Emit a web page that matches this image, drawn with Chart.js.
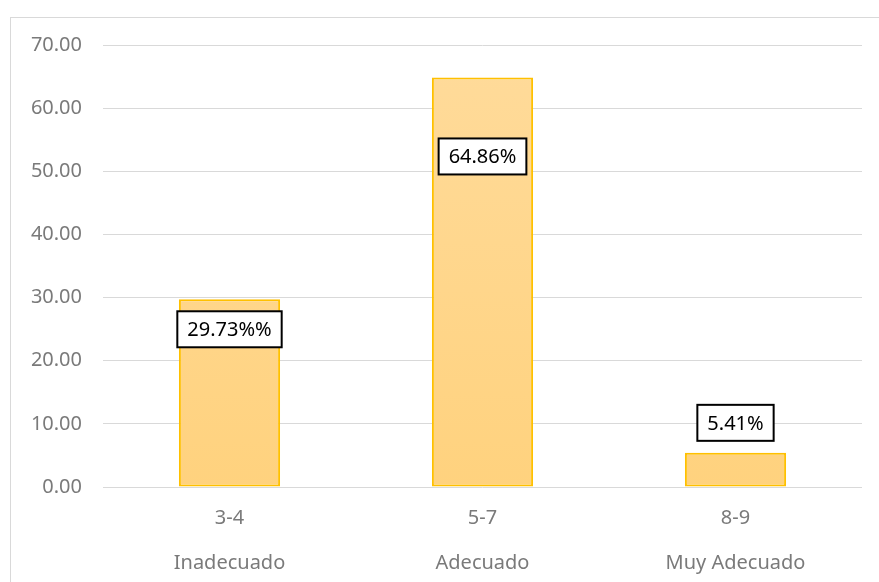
<!DOCTYPE html>
<html>
<head>
<meta charset="utf-8">
<script src="https://cdn.jsdelivr.net/npm/chart.js@4/dist/chart.umd.min.js"></script>
<style>
  html, body { margin: 0; padding: 0; background: #fff; overflow: hidden; }
  #marco { position: absolute; left: 10px; top: 17px; width: 900px; height: 600px; border: 1px solid #d9d9d9; }
  #wrap { position: absolute; left: 0; top: 0; width: 879px; height: 582px; }
</style>
</head>
<body>
<div id="marco"></div>
<div id="wrap"><canvas id="grafico" width="879" height="582"></canvas></div>
<script>
// datos
const rangos = ['3-4', '5-7', '8-9'];
const niveles = ['Inadecuado', 'Adecuado', 'Muy Adecuado'];
const porcentajes = [29.73, 64.86, 5.41];
const etiquetas = ['29.73%%', '64.86%', '5.41%'];
const ticksY = [0, 10, 20, 30, 40, 50, 60, 70];

// cajas de etiquetas, desplazadas respecto al tope de la barra (px)
const cajas = {
  id: 'cajas',
  afterDatasetsDraw(chart, args, opts) {
    const ctx = chart.ctx;
    const meta = chart.getDatasetMeta(0);
    ctx.save();
    ctx.font = '20px "Noto Sans"';
    ctx.textAlign = 'center';
    ctx.textBaseline = 'middle';
    meta.data.forEach((bar, i) => {
      const txt = etiquetas[i];
      const w = ctx.measureText(txt).width + 20;
      const h = 36;
      const cx = bar.x;
      const cy = bar.y + opts.offsets[i];
      ctx.fillStyle = '#fff';
      ctx.fillRect(cx - w / 2, cy - h / 2, w, h);
      ctx.lineWidth = 2;
      ctx.strokeStyle = '#000';
      ctx.strokeRect(cx - w / 2, cy - h / 2, w, h);
      ctx.fillStyle = '#000';
      ctx.fillText(txt, cx, cy + 1);
    });
    ctx.restore();
  }
};

new Chart(document.getElementById('grafico'), {
  type: 'bar',
  data: {
    labels: rangos.map((r, i) => [r, niveles[i]]),
    datasets: [{
      data: porcentajes,
      backgroundColor: (c) => {
        const area = c.chart.chartArea;
        if (!area) return '#FFD996';
        const g = c.chart.ctx.createLinearGradient(0, area.top, 0, area.bottom);
        g.addColorStop(0, '#FFDB9B');
        g.addColorStop(1, '#FFD27E');
        return g;
      },
      borderColor: '#FFC000',
      borderWidth: 2,
      borderSkipped: false,
      categoryPercentage: 1,
      barPercentage: 0.4
    }]
  },
  options: {
    responsive: false,
    animation: false,
    devicePixelRatio: 1,
    layout: { padding: { top: 45, right: 17, left: 0, bottom: 0 } },
    plugins: {
      legend: { display: false },
      tooltip: { enabled: false },
      cajas: { offsets: [30, 79, -30] }
    },
    scales: {
      y: {
        min: 0,
        max: 70,
        afterBuildTicks: (s) => { s.ticks = ticksY.map(v => ({ value: v })); },
        afterFit: (s) => { s.width = 103; },
        grid: { color: '#d9d9d9', lineWidth: 1, drawTicks: false },
        border: { display: false },
        ticks: {
          padding: 21,
          color: '#7a7a7a',
          font: { family: 'Noto Sans', size: 20 },
          callback: (v) => Number(v).toFixed(2)
        }
      },
      x: {
        afterFit: (s) => { s.height = 95; },
        grid: { display: false, drawTicks: false },
        border: { display: false },
        ticks: {
          padding: 9,
          color: '#7a7a7a',
          font: { family: 'Noto Sans', size: 20, lineHeight: 2.25 }
        }
      }
    }
  },
  plugins: [cajas]
});
</script>
</body>
</html>
